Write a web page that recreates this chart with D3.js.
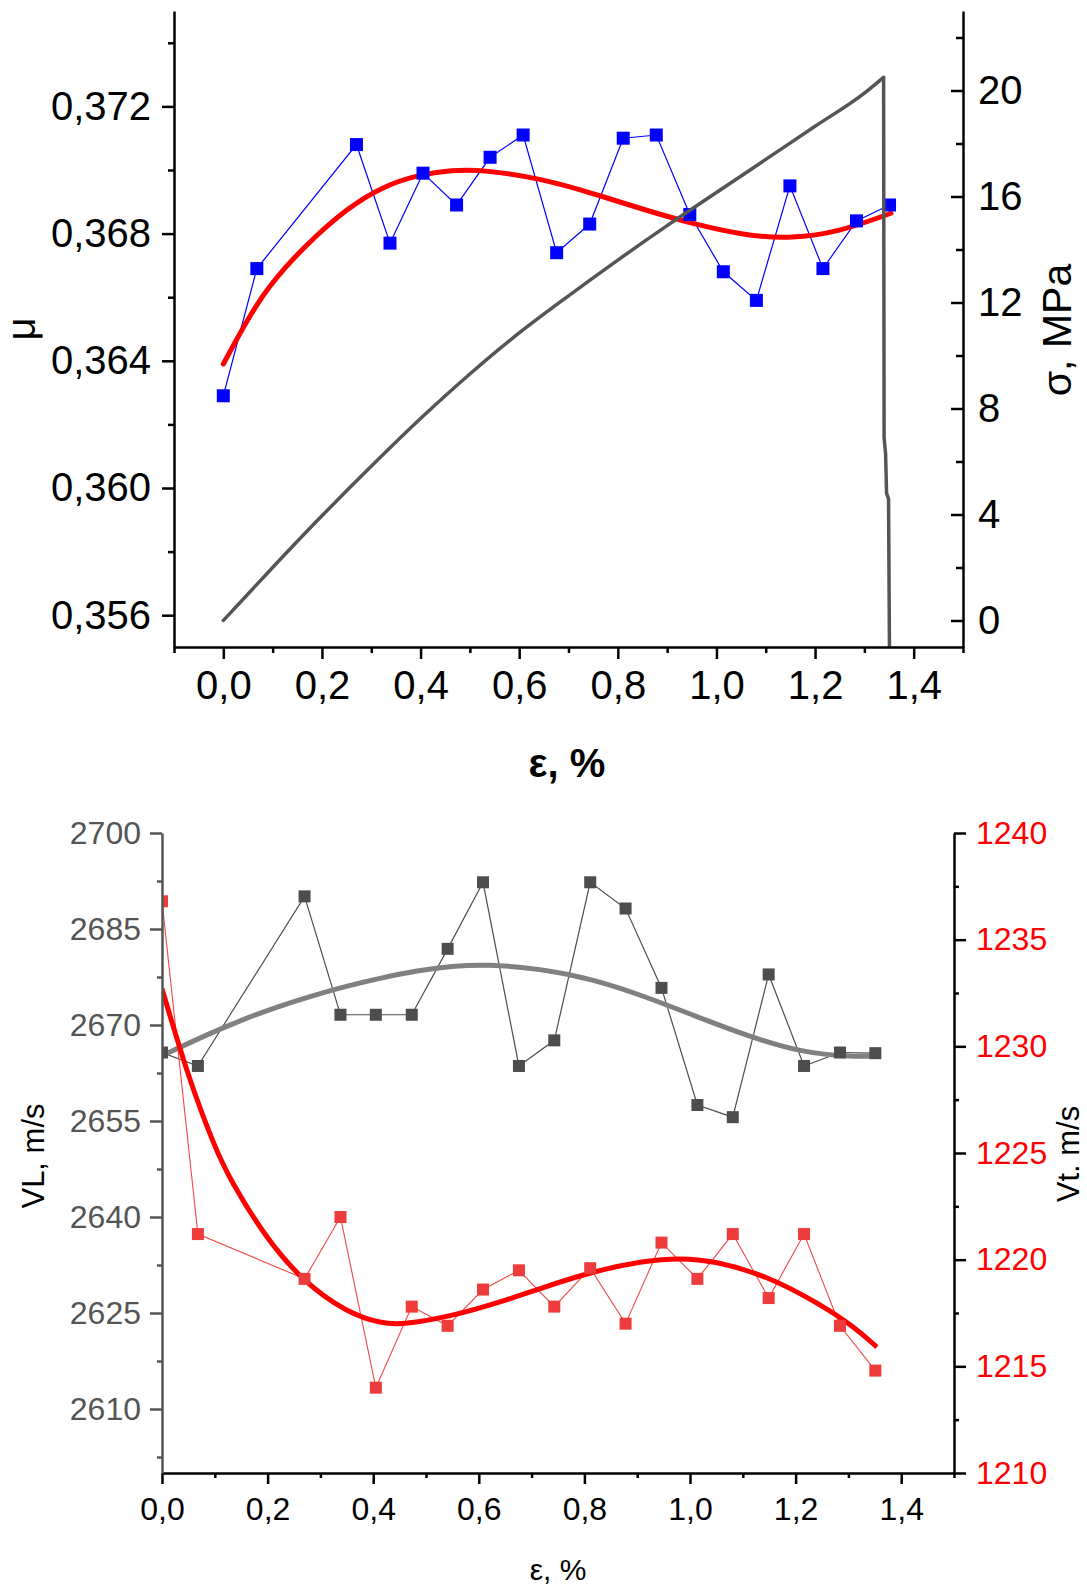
<!DOCTYPE html>
<html>
<head>
<meta charset="utf-8">
<script src="https://cdn.jsdelivr.net/npm/d3@7"></script>
<style>
  html, body { margin: 0; padding: 0; background: #fff; }
  svg text { font-family: 'Liberation Sans', Arial, sans-serif; }
</style>
</head>
<body>
<svg id="chart" width="1087" height="1587"></svg>
<script>
// ---- measured strain points (shared by both panels), %
const strain = [0, 0.068, 0.270, 0.338, 0.405, 0.473, 0.541, 0.608, 0.676, 0.743,
                0.811, 0.878, 0.946, 1.014, 1.081, 1.149, 1.216, 1.284, 1.351];

// ---- upper panel: Poisson's ratio and stress
const mu = [0.3629, 0.3669, 0.3708, 0.3677, 0.3699, 0.3689, 0.3704, 0.3711, 0.3674, 0.3683,
            0.3710, 0.3711, 0.3686, 0.3668, 0.3659, 0.3695, 0.3669, 0.3684, 0.3689];
const muFitStrain = [0, 0.069, 0.126, 0.182, 0.252, 0.323, 0.393, 0.464, 0.530, 0.642,
                     0.749, 0.855, 0.961, 1.067, 1.152, 1.244, 1.354];
const muFit = [0.36390, 0.36588, 0.36696, 0.36785, 0.36880, 0.36948, 0.36984, 0.37000, 0.37000, 0.36974,
               0.36927, 0.36874, 0.36827, 0.36792, 0.36785, 0.36803, 0.36864];
const sigmaStrain = [0, 0.1, 0.2, 0.3, 0.4, 0.5, 0.6, 0.7, 0.8, 0.9, 1.0, 1.1, 1.2, 1.3,
                     1.339, 1.340, 1.343, 1.345, 1.349, 1.351];
const sigma = [0, 2.0, 3.95, 5.82, 7.62, 9.3, 10.85, 12.25, 13.6, 14.9, 16.15, 17.4, 18.65, 19.9,
               20.5, 6.9, 6.3, 4.8, 4.6, -1.5];
const sigmaPeakIndex = 14;   // last point of the loading branch

// ---- lower panel: longitudinal and transverse wave velocities
const vl = [2665.7, 2663.6, 2690.1, 2671.6, 2671.6, 2671.6, 2681.9, 2692.3, 2663.6, 2667.6,
            2692.3, 2688.2, 2675.8, 2657.5, 2655.6, 2677.9, 2663.6, 2665.7, 2665.6];
const vlFitStrain = [0, 0.088, 0.154, 0.220, 0.285, 0.351, 0.417, 0.483, 0.549, 0.615,
                     0.716, 0.815, 0.914, 1.013, 1.112, 1.211, 1.311, 1.352];
const vlFit = [2665.2, 2668.6, 2670.9, 2672.9, 2674.6, 2676.1, 2677.4, 2678.5, 2679.2, 2679.5,
               2678.8, 2677.2, 2674.5, 2671.3, 2668.2, 2665.7, 2665.0, 2665.2];
const vt = [1236.8, 1221.2, 1219.1, 1222.0, 1214.0, 1217.8, 1216.9, 1218.6, 1219.5, 1217.8,
            1219.6, 1217.0, 1220.8, 1219.1, 1221.2, 1218.2, 1221.2, 1216.9, 1214.8];
const vtFitStrain = [0, 0.049, 0.101, 0.128, 0.194, 0.266, 0.351, 0.417, 0.457, 0.549,
                     0.646, 0.716, 0.815, 0.914, 0.980, 1.046, 1.145, 1.244, 1.311, 1.354];
const vtFit = [1232.7, 1228.6, 1225.2, 1223.8, 1221.1, 1219.0, 1217.5, 1217.0, 1216.96, 1217.35,
               1218.05, 1218.65, 1219.45, 1219.95, 1220.08, 1219.95, 1219.25, 1217.95, 1216.85, 1215.9];

// ---- tick values
const xTicks = [0, 0.2, 0.4, 0.6, 0.8, 1.0, 1.2, 1.4];
const xMinorTop = [-0.1, 0.1, 0.3, 0.5, 0.7, 0.9, 1.1, 1.3, 1.5];
const xMinorBottom = [0.1, 0.3, 0.5, 0.7, 0.9, 1.1, 1.3, 1.5];
const muTicks = [0.356, 0.360, 0.364, 0.368, 0.372];
const muMinor = [0.358, 0.362, 0.366, 0.370, 0.374];
const sigmaTicks = [0, 4, 8, 12, 16, 20];
const sigmaMinor = [2, 6, 10, 14, 18, 22];
const vlTicks = [2610, 2625, 2640, 2655, 2670, 2685, 2700];
const vlMinor = [2602.5, 2617.5, 2632.5, 2647.5, 2662.5, 2677.5, 2692.5];
const vtTicks = [1210, 1215, 1220, 1225, 1230, 1235, 1240];
const vtMinor = [1212.5, 1217.5, 1222.5, 1227.5, 1232.5, 1237.5];

const svg = d3.select('#chart');
svg.append('rect').attr('width', 1087).attr('height', 1587).attr('fill', '#fff');

const decComma = fmt => v => d3.format(fmt)(v).replace('.', ',');
const zip = (xs, ys) => xs.map((x, i) => [x, ys[i]]);

function drawAxis(g, axis, color, width, fontSize, textColor) {
  g.call(axis);
  g.selectAll('path.domain').attr('stroke', color).attr('stroke-width', width);
  g.selectAll('.tick line').attr('stroke', color).attr('stroke-width', width);
  g.selectAll('.tick text').attr('fill', textColor).style('font-size', fontSize + 'px')
    .style('font-family', "'Liberation Sans', Arial, sans-serif");
}
function minorAxis(g, axis, color, width) {
  g.call(axis);
  g.select('path.domain').remove();
  g.selectAll('.tick line').attr('stroke', color).attr('stroke-width', width);
  g.selectAll('.tick text').remove();
}
function squares(g, pts, size, color) {
  g.selectAll(null).data(pts).join('rect')
    .attr('x', d => d[0] - size / 2).attr('y', d => d[1] - size / 2)
    .attr('width', size).attr('height', size).attr('fill', color);
}

// =================== upper panel ===================
const upper = { l: 174, r: 963, t: 11, b: 647 };
const x1 = d3.scaleLinear().domain([-0.1, 1.5]).range([upper.l, upper.r]);
const yMu = d3.scaleLinear().domain([0.355, 0.375]).range([upper.b, upper.t]);
const ySig = d3.scaleLinear().domain([-1, 23]).range([upper.b, upper.t]);

svg.append('clipPath').attr('id', 'clipUpper').append('rect')
  .attr('x', upper.l).attr('y', upper.t).attr('width', upper.r - upper.l).attr('height', upper.b - upper.t);
const p1 = svg.append('g').attr('clip-path', 'url(#clipUpper)');

const lineMu = d3.line().x(d => x1(d[0])).y(d => yMu(d[1]));
p1.append('path').datum(zip(strain, mu)).attr('d', lineMu)
  .attr('fill', 'none').attr('stroke', '#0000FF').attr('stroke-width', 1.2);
p1.append('path').datum(zip(muFitStrain, muFit))
  .attr('d', d3.line().x(d => x1(d[0])).y(d => yMu(d[1])).curve(d3.curveBasis))
  .attr('fill', 'none').attr('stroke', '#FF0000').attr('stroke-width', 5).attr('stroke-linecap', 'round');
squares(p1.append('g'), zip(strain, mu).map(d => [x1(d[0]), yMu(d[1])]), 13, '#0000FF');

// stress curve: smooth loading branch, then the fracture drop
const sigPts = zip(sigmaStrain, sigma);
p1.append('path').datum(sigPts.slice(0, sigmaPeakIndex + 1))
  .attr('d', d3.line().x(d => x1(d[0])).y(d => ySig(d[1])).curve(d3.curveMonotoneX))
  .attr('fill', 'none').attr('stroke', '#555555').attr('stroke-width', 3.5).attr('stroke-linecap', 'round');
p1.append('path').datum(sigPts.slice(sigmaPeakIndex))
  .attr('d', d3.line().x(d => x1(d[0])).y(d => ySig(d[1])))
  .attr('fill', 'none').attr('stroke', '#555555').attr('stroke-width', 3.5).attr('stroke-linejoin', 'round');

// axes
drawAxis(svg.append('g').attr('transform', `translate(0,${upper.b})`),
  d3.axisBottom(x1).tickValues(xTicks).tickFormat(decComma('.1f')).tickSize(12).tickSizeOuter(0).tickPadding(12),
  '#000', 2.5, 40, '#000');
minorAxis(svg.append('g').attr('transform', `translate(0,${upper.b})`),
  d3.axisBottom(x1).tickValues(xMinorTop).tickSize(6), '#000', 2.5);

drawAxis(svg.append('g').attr('transform', `translate(${upper.l},0)`),
  d3.axisLeft(yMu).tickValues(muTicks).tickFormat(decComma('.3f')).tickSize(12).tickSizeOuter(0).tickPadding(11),
  '#000', 2.5, 40, '#000');
minorAxis(svg.append('g').attr('transform', `translate(${upper.l},0)`),
  d3.axisLeft(yMu).tickValues(muMinor).tickSize(6), '#000', 2.5);

drawAxis(svg.append('g').attr('transform', `translate(${upper.r},0)`),
  d3.axisRight(ySig).tickValues(sigmaTicks).tickFormat(d3.format('d')).tickSizeInner(-12).tickSizeOuter(0).tickPadding(15),
  '#000', 2.5, 40, '#000');
minorAxis(svg.append('g').attr('transform', `translate(${upper.r},0)`),
  d3.axisRight(ySig).tickValues(sigmaMinor).tickSizeInner(-7).tickSizeOuter(0), '#000', 2.5);

svg.append('text').attr('transform', 'translate(35,329) rotate(-90)')
  .attr('text-anchor', 'middle').style('font-size', '40px').attr('fill', '#000').text('μ');
svg.append('text').attr('transform', 'translate(1071,330) rotate(-90)')
  .attr('text-anchor', 'middle').style('font-size', '41px').attr('fill', '#000').text('σ, MPa');
svg.append('text').attr('x', 567).attr('y', 777)
  .attr('text-anchor', 'middle').style('font-size', '40px').style('font-weight', 'bold')
  .attr('fill', '#000').text('ε, %');

// =================== lower panel ===================
const lower = { l: 162, r: 954, t: 833, b: 1473 };
const x2 = d3.scaleLinear().domain([0, 1.5]).range([lower.l, lower.r]);
const yVL = d3.scaleLinear().domain([2600, 2700]).range([lower.b, lower.t]);
const yVt = d3.scaleLinear().domain([1210, 1240]).range([lower.b, lower.t]);

svg.append('clipPath').attr('id', 'clipLower').append('rect')
  .attr('x', lower.l).attr('y', lower.t - 8).attr('width', lower.r - lower.l).attr('height', lower.b - lower.t + 8);
const p2 = svg.append('g').attr('clip-path', 'url(#clipLower)');

const lineVL = d3.line().x(d => x2(d[0])).y(d => yVL(d[1]));
p2.append('path').datum(zip(strain, vl)).attr('d', lineVL)
  .attr('fill', 'none').attr('stroke', '#4D4D4D').attr('stroke-width', 1.2);
p2.append('path').datum(zip(vlFitStrain, vlFit))
  .attr('d', d3.line().x(d => x2(d[0])).y(d => yVL(d[1])).curve(d3.curveBasis))
  .attr('fill', 'none').attr('stroke', '#808080').attr('stroke-width', 5);
squares(p2.append('g'), zip(strain, vl).map(d => [x2(d[0]), yVL(d[1])]), 12, '#4D4D4D');

const lineVt = d3.line().x(d => x2(d[0])).y(d => yVt(d[1]));
p2.append('path').datum(zip(strain, vt)).attr('d', lineVt)
  .attr('fill', 'none').attr('stroke', '#F04848').attr('stroke-width', 1.1);
p2.append('path').datum(zip(vtFitStrain, vtFit))
  .attr('d', d3.line().x(d => x2(d[0])).y(d => yVt(d[1])).curve(d3.curveBasis))
  .attr('fill', 'none').attr('stroke', '#FF0000').attr('stroke-width', 5);
squares(p2.append('g'), zip(strain, vt).map(d => [x2(d[0]), yVt(d[1])]), 12, '#EE3B3B');

// axes
drawAxis(svg.append('g').attr('transform', `translate(0,${lower.b})`),
  d3.axisBottom(x2).tickValues(xTicks).tickFormat(decComma('.1f')).tickSize(11).tickSizeOuter(0).tickPadding(13),
  '#000', 2.5, 32, '#000');
minorAxis(svg.append('g').attr('transform', `translate(0,${lower.b})`),
  d3.axisBottom(x2).tickValues(xMinorBottom).tickSize(5), '#000', 2.5);

drawAxis(svg.append('g').attr('transform', `translate(${lower.l},0)`),
  d3.axisLeft(yVL).tickValues(vlTicks).tickFormat(d3.format('d')).tickSize(12).tickSizeOuter(0).tickPadding(9),
  '#555555', 2.5, 32, '#555555');
minorAxis(svg.append('g').attr('transform', `translate(${lower.l},0)`),
  d3.axisLeft(yVL).tickValues(vlMinor).tickSize(5), '#555555', 2.5);

drawAxis(svg.append('g').attr('transform', `translate(${lower.r},0)`),
  d3.axisRight(yVt).tickValues(vtTicks).tickFormat(d3.format('d')).tickSize(12).tickSizeOuter(0).tickPadding(10),
  '#000', 2.5, 32, '#FF0000');
minorAxis(svg.append('g').attr('transform', `translate(${lower.r},0)`),
  d3.axisRight(yVt).tickValues(vtMinor).tickSize(5), '#000', 2.5);

svg.append('text').attr('transform', 'translate(44,1156) rotate(-90)')
  .attr('text-anchor', 'middle').style('font-size', '31px').attr('fill', '#000').text('VL, m/s');
svg.append('text').attr('transform', 'translate(1079,1154) rotate(-90)')
  .attr('text-anchor', 'middle').style('font-size', '31px').attr('fill', '#000').text('Vt. m/s');
svg.append('text').attr('x', 558).attr('y', 1580)
  .attr('text-anchor', 'middle').style('font-size', '30px').attr('fill', '#000').text('ε, %');
</script>
</body>
</html>
